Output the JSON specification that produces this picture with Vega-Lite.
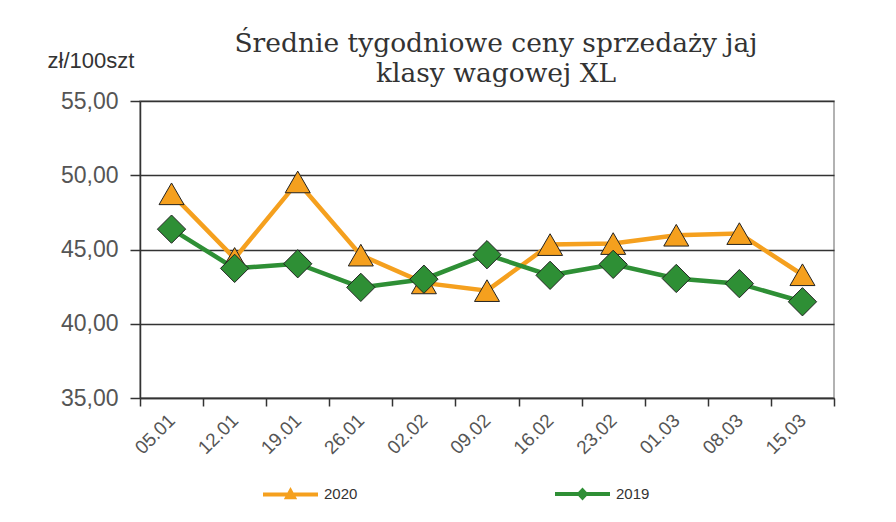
{
  "$schema": "https://vega.github.io/schema/vega-lite/v6.json",
  "width": 694,
  "height": 297,
  "autosize": {"type": "none"},
  "padding": {"left": 140, "top": 101, "right": 62, "bottom": 124},
  "background": "white",
  "title": {
    "text": ["Średnie tygodniowe ceny sprzedaży jaj", "klasy wagowej XL"],
    "font": "DejaVu Serif",
    "fontSize": 26.5,
    "fontWeight": "normal",
    "color": "#333333",
    "lineHeight": 30,
    "anchor": "middle",
    "offset": 10,
    "dx": 9,
    "dy": 48
  },
  "config": {
    "view": {"stroke": "#999999", "strokeWidth": 1.5},
    "axis": {"labelFont": "Liberation Sans", "titleFont": "Liberation Sans"}
  },
  "data": {
    "values": [
      {"week": "05.01", "series": "2020", "price": 48.75},
      {"week": "12.01", "series": "2020", "price": 44.4},
      {"week": "19.01", "series": "2020", "price": 49.55},
      {"week": "26.01", "series": "2020", "price": 44.62},
      {"week": "02.02", "series": "2020", "price": 42.75},
      {"week": "09.02", "series": "2020", "price": 42.23},
      {"week": "16.02", "series": "2020", "price": 45.33},
      {"week": "23.02", "series": "2020", "price": 45.4},
      {"week": "01.03", "series": "2020", "price": 45.96},
      {"week": "08.03", "series": "2020", "price": 46.07},
      {"week": "15.03", "series": "2020", "price": 43.3},
      {"week": "05.01", "series": "2019", "price": 46.37},
      {"week": "12.01", "series": "2019", "price": 43.73},
      {"week": "19.01", "series": "2019", "price": 44.04},
      {"week": "26.01", "series": "2019", "price": 42.45},
      {"week": "02.02", "series": "2019", "price": 43.0},
      {"week": "09.02", "series": "2019", "price": 44.65},
      {"week": "16.02", "series": "2019", "price": 43.26},
      {"week": "23.02", "series": "2019", "price": 44.0},
      {"week": "01.03", "series": "2019", "price": 43.05},
      {"week": "08.03", "series": "2019", "price": 42.7},
      {"week": "15.03", "series": "2019", "price": 41.48}
    ]
  },
  "encoding": {
    "x": {
      "field": "week",
      "type": "nominal",
      "sort": null,
      "scale": {"type": "band", "paddingInner": 0, "paddingOuter": 0},
      "axis": {
        "title": null,
        "labelAngle": -45,
        "labelAlign": "right",
        "labelBaseline": "middle",
        "labelFontSize": 19,
        "labelColor": "#555555",
        "labelPadding": 11,
        "labelDx": 3,
        "tickBand": "extent",
        "tickSize": 8,
        "tickColor": "#333333",
        "tickWidth": 1.5,
        "domainColor": "#333333",
        "domainWidth": 1.5,
        "grid": false
      }
    },
    "y": {
      "field": "price",
      "type": "quantitative",
      "scale": {"domain": [35, 55], "nice": false, "zero": false},
      "axis": {
        "values": [35, 40, 45, 50, 55],
        "labelExpr": "replace(format(datum.value, '.2f'), '.', ',')",
        "labelFontSize": 23,
        "labelColor": "#555555",
        "labelPadding": 12,
        "tickSize": 10,
        "tickColor": "#333333",
        "tickWidth": 1.5,
        "domainColor": "#333333",
        "domainWidth": 1.5,
        "grid": true,
        "gridColor": "#333333",
        "gridWidth": 1.5,
        "title": "zł/100szt",
        "titleAngle": 0,
        "titleAlign": "left",
        "titleBaseline": "middle",
        "titleX": -93,
        "titleY": -41,
        "titleFontSize": 22,
        "titleFontWeight": "normal",
        "titleColor": "#333333"
      }
    },
    "color": {
      "field": "series",
      "type": "nominal",
      "scale": {"domain": ["2020", "2019"], "range": ["#F5A01E", "#2E8F35"]},
      "legend": {
        "orient": "none",
        "legendX": 121,
        "legendY": 363,
        "direction": "horizontal",
        "title": null,
        "symbolType": "M-1,0H1M-0.12,0.1L0.12,0.1L0,-0.12Z",
        "symbolSize": 3025,
        "symbolStrokeWidth": 4,
        "labelFontSize": 15,
        "labelFont": "Liberation Sans",
        "labelColor": "#333333",
        "labelOffset": 4,
        "columnPadding": 189,
        "encode": {
          "symbols": {
            "update": {
              "shape": {"signal": "datum.value == '2019' ? 'M-1,0H1M-0.12,0L0,-0.13L0.12,0L0,0.13Z' : 'M-1,0H1M-0.12,0.1L0.12,0.1L0,-0.12Z'"}
            }
          }
        }
      }
    }
  },
  "layer": [
    {
      "mark": {"type": "line", "strokeWidth": 4.5}
    },
    {
      "transform": [{"filter": "datum.series == '2020'"}],
      "mark": {"type": "point", "shape": "triangle-up", "size": 625, "filled": true, "stroke": "#222222", "strokeWidth": 1, "opacity": 1}
    },
    {
      "transform": [{"filter": "datum.series == '2019'"}],
      "mark": {"type": "point", "shape": "diamond", "size": 800, "filled": true, "stroke": "#222222", "strokeWidth": 1, "opacity": 1}
    }
  ]
}
